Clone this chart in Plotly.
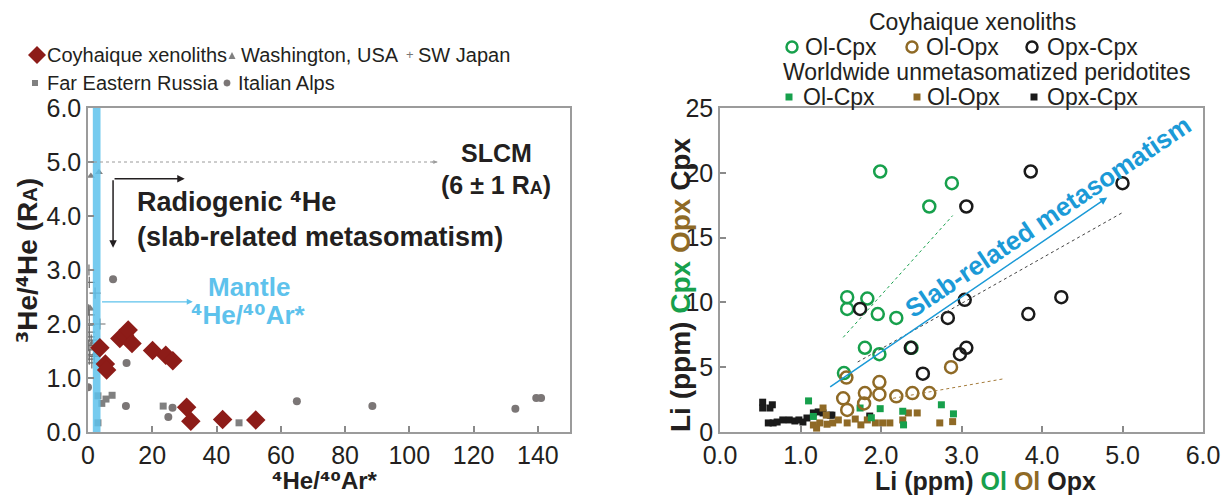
import plotly.graph_objects as go

W, H = 1231, 498
OFF = 8  # page body margin of the browser
FONT = "Arial, 'Liberation Sans', sans-serif"
TXT = "#231f20"

# ---------------- Left panel data: 3He/4He (RA) vs 4He/40Ar* ----------------
coy_x = [3.7, 5.4, 5.8, 9.9, 11.4, 12.5, 13.7, 20.1, 24.2, 26.4, 30.7, 32.0, 41.9, 52.2]
coy_y = [1.56, 1.26, 1.15, 1.73, 1.79, 1.89, 1.64, 1.51, 1.42, 1.32, 0.46, 0.20, 0.23, 0.22]

wash_x = [0.9, 3.4, 0.6, 1.3, 2.2]
wash_y = [4.74, 4.81, 2.30, 1.65, 1.45]

jap_x = [0.4, 2.2, 0.1, 0.4, 0.4, 3.7, 0.4, 0.4, 0.1, 0.6, 0.4, 0.4, 1.2, 0.3, 1.0, 2.0]
jap_y = [2.77, 2.57, 2.26, 2.17, 1.98, 2.00, 1.85, 1.76, 1.60, 1.52, 1.43, 1.35, 1.28, 3.00, 1.70, 1.40]

fer_x = [3.1, 4.3, 5.6, 7.5, 23.4, 47.0, 3.1]
fer_y = [0.67, 0.53, 0.61, 0.68, 0.48, 0.17, 0.17]

ita_x = [0.0, 7.8, 12.0, 11.8, 25.0, 26.3, 65.0, 88.5, 133.0, 139.5, 141.0]
ita_y = [0.83, 2.83, 1.28, 0.48, 0.28, 0.45, 0.57, 0.48, 0.43, 0.63, 0.63]

mantle_band = [1.5, 3.9]          # 4He/40Ar* mantle range (shaded)
slcm_ra = 5.0                     # SLCM reference level
left_xticks = [0, 20, 40, 60, 80, 100, 120, 140]
left_yticks = [0, 1, 2, 3, 4, 5, 6]

# ---------------- Right panel data: Li (ppm) mineral pairs ----------------
olcpx_x = [1.99, 2.88, 2.60, 1.58, 1.83, 1.58, 1.96, 2.19, 1.80, 1.98, 1.54, 2.38]
olcpx_y = [20.1, 19.2, 17.4, 10.4, 10.3, 9.5, 9.1, 8.8, 6.5, 6.0, 4.55, 6.5]

olopx_x = [1.57, 1.53, 1.58, 1.80, 1.79, 1.98, 1.98, 2.19, 2.39, 2.60, 2.87]
olopx_y = [4.2, 2.6, 1.7, 3.0, 2.2, 3.85, 2.9, 2.75, 3.0, 3.0, 5.0]

opxcpx_x = [1.74, 2.37, 2.52, 2.83, 2.98, 3.06, 3.04, 3.06, 3.86, 3.83, 4.24, 5.00]
opxcpx_y = [9.5, 6.5, 4.5, 8.8, 6.0, 6.5, 10.2, 17.4, 20.1, 9.1, 10.4, 19.2]

w_olcpx_x = [1.10, 1.16, 1.74, 1.99, 2.27, 2.28, 2.75, 1.88, 2.90]
w_olcpx_y = [2.4, 1.2, 1.85, 1.8, 1.6, 0.55, 2.1, 1.1, 1.4]

w_olopx_x = [1.16, 1.24, 1.33, 1.40, 1.47, 1.58, 1.68, 1.83, 1.93, 2.02, 2.11, 2.27,
             2.34, 2.45, 2.73, 2.89, 1.28, 1.32, 1.20, 1.75]
w_olopx_y = [0.54, 0.7, 0.6, 0.7, 0.93, 0.7, 1.0, 0.93, 0.7, 0.7, 0.7, 0.93,
             1.47, 1.47, 0.7, 0.8, 1.85, 1.3, 0.3, 0.55]

w_opxcpx_x = [0.53, 0.65, 0.53, 0.60, 0.66, 0.71, 0.78, 0.86, 0.93, 0.98, 1.08, 1.16,
              1.22, 1.28, 1.37, 1.86, 1.03, 0.62, 1.39]
w_opxcpx_y = [2.3, 2.1, 1.85, 0.7, 0.7, 0.77, 0.93, 0.93, 0.85, 0.93, 1.08, 1.47,
              1.55, 1.47, 1.3, 1.23, 0.77, 1.85, 1.3]

# trend lines (start, end) in data units
trend_olcpx = [(1.53, 7.3), (2.89, 16.7)]
trend_opxcpx = [(1.71, 5.4), (5.02, 17.0)]
trend_olopx = [(2.15, 2.6), (3.52, 4.1)]
slab_arrow = [(1.35, 3.4), (4.81, 18.1)]
right_xticks = [0, 1, 2, 3, 4, 5, 6]
right_yticks = [0, 5, 10, 15, 20, 25]

# colours
RED = "#8d1c18"
GRAY = "#808080"
GRAY2 = "#7b7676"
BAND = "rgba(94,194,236,0.85)"
LBLUE = "#5ec2ec"
GREEN = "#17a04c"
BROWN = "#8f6a26"
BLACK = "#1a1a1a"
SBLUE = "#1b9ad7"


def sup(s):
    """superscript digits rendered with one consistent font"""
    return f"<span style='font-family:DejaVu Sans'>{s}</span>"


def fx(x):
    return (x - OFF) / W


def fy(y):
    return 1 - (y - OFF) / H


fig = go.Figure()

# ---- left panel traces ----
fig.add_trace(go.Scatter(x=wash_x, y=wash_y, mode="markers", name="Washington, USA",
                         marker=dict(symbol="triangle-up", size=7, color=GRAY), xaxis="x", yaxis="y"))
fig.add_trace(go.Scatter(x=jap_x, y=jap_y, mode="markers", name="SW Japan",
                         marker=dict(symbol="cross-thin", size=8, line=dict(width=1.2, color="#6e6e6e")),
                         xaxis="x", yaxis="y"))
fig.add_trace(go.Scatter(x=fer_x, y=fer_y, mode="markers", name="Far Eastern Russia",
                         marker=dict(symbol="square", size=7, color=GRAY), xaxis="x", yaxis="y"))
fig.add_trace(go.Scatter(x=ita_x, y=ita_y, mode="markers", name="Italian Alps",
                         marker=dict(symbol="circle", size=8, color=GRAY2), xaxis="x", yaxis="y"))
b0, b1 = mantle_band
fig.add_trace(go.Scatter(x=[b0, b1, b1, b0, b0], y=[0, 0, 6, 6, 0], mode="lines", fill="toself",
                         fillcolor=BAND, line=dict(width=0), hoverinfo="skip", xaxis="x", yaxis="y"))
fig.add_trace(go.Scatter(x=coy_x, y=coy_y, mode="markers", name="Coyhaique xenoliths",
                         marker=dict(symbol="diamond", size=15, color=RED), xaxis="x", yaxis="y"))

# ---- right panel traces ----
sq = dict(symbol="square", size=7)
fig.add_trace(go.Scatter(x=w_opxcpx_x, y=w_opxcpx_y, mode="markers", marker=dict(color=BLACK, **sq),
                         xaxis="x2", yaxis="y2"))
fig.add_trace(go.Scatter(x=w_olopx_x, y=w_olopx_y, mode="markers", marker=dict(color=BROWN, **sq),
                         xaxis="x2", yaxis="y2"))
fig.add_trace(go.Scatter(x=w_olcpx_x, y=w_olcpx_y, mode="markers", marker=dict(color=GREEN, **sq),
                         xaxis="x2", yaxis="y2"))
ring = dict(symbol="circle-open", size=12)
fig.add_trace(go.Scatter(x=olcpx_x, y=olcpx_y, mode="markers",
                         marker=dict(color=GREEN, line=dict(width=2.5, color=GREEN), **ring),
                         xaxis="x2", yaxis="y2"))
fig.add_trace(go.Scatter(x=olopx_x, y=olopx_y, mode="markers",
                         marker=dict(color=BROWN, line=dict(width=2.5, color=BROWN), **ring),
                         xaxis="x2", yaxis="y2"))
fig.add_trace(go.Scatter(x=opxcpx_x, y=opxcpx_y, mode="markers",
                         marker=dict(color=BLACK, line=dict(width=2.5, color=BLACK), **ring),
                         xaxis="x2", yaxis="y2"))

shapes = []
annotations = []


def arrow(xref, yref, x0, y0, x1, y1, color, width, size=1.0):
    annotations.append(dict(xref=xref, yref=yref, axref=xref, ayref=yref, x=x1, y=y1, ax=x0, ay=y0,
                            text="", showarrow=True, arrowhead=2, arrowsize=size, arrowwidth=width,
                            arrowcolor=color))


# SLCM dotted line
shapes.append(dict(type="line", xref="x", yref="y", x0=0, x1=108.7, y0=slcm_ra, y1=slcm_ra,
                   line=dict(color="#9a9a9a", width=1, dash="dot")))
arrow("x", "y", 106.5, slcm_ra, 108.7, slcm_ra, "#9a9a9a", 1, 0.8)
# black L arrows
arrow("x", "y", 7.8, 4.69, 7.8, 3.41, TXT, 1.5)
arrow("x", "y", 7.8, 4.69, 30.1, 4.69, TXT, 1.5)
# blue mantle arrow
arrow("x", "y", b1, 2.41, 32.6, 2.41, LBLUE, 1.2)


def dtext(xref, yref, x, y, s, size, color=TXT, anchor="center", angle=0):
    annotations.append(dict(xref=xref, yref=yref, x=x, y=y, xanchor=anchor, yanchor="middle",
                            showarrow=False, text=s, textangle=angle,
                            font=dict(family=FONT, size=size, color=color)))


dtext("x", "y", 14.6, 4.26, f"<b>Radiogenic {sup('⁴')}He</b>", 27, anchor="left")
dtext("x", "y", 14.6, 3.61, "<b>(slab-related metasomatism)</b>", 27, anchor="left")
dtext("x", "y", 127, 5.17, "<b>SLCM</b>", 25)
dtext("x", "y", 127, 4.57, "<b>(6 ± 1 R<span style='font-size:18px'>A</span>)</b>", 25)
dtext("x", "y", 50, 2.69, "<b>Mantle</b>", 26, color=LBLUE)
dtext("x", "y", 50, 2.17, f"<b>{sup('⁴')}He/{sup('⁴⁰')}Ar*</b>", 26, color=LBLUE)

# right panel trend lines
for (p0, p1), col in [(trend_olcpx, GREEN), (trend_opxcpx, "#444444"), (trend_olopx, "#a57c3c")]:
    shapes.append(dict(type="line", xref="x2", yref="y2", x0=p0[0], y0=p0[1], x1=p1[0], y1=p1[1],
                       line=dict(color=col, width=1, dash="dot")))
arrow("x2", "y2", slab_arrow[0][0], slab_arrow[0][1], slab_arrow[1][0], slab_arrow[1][1], SBLUE, 1.5)
dtext("x2", "y2", 4.07, 16.6, "<b>Slab-related metasomatism</b>", 26, color=SBLUE, angle=-34)


def ptext(xp, yp, s, size, anchor="left", angle=0, color=TXT):
    dtext("paper", "paper", fx(xp), fy(yp), s, size, color=color, anchor=anchor, angle=angle)


# axis titles
ptext(27, 261, f"<b>{sup('³')}He/{sup('⁴')}He (R<span style='font-size:20px'>A</span>)</b>", 28,
      anchor="center", angle=-90)
ptext(325, 481, f"<b>{sup('⁴')}He/{sup('⁴⁰')}Ar*</b>", 24, anchor="center")
ptext(680, 285, f"<b>Li (ppm) <span style='color:{GREEN}'>Cpx</span> "
                f"<span style='color:{BROWN}'>Opx</span> Cpx</b>", 28, anchor="center", angle=-90)
ptext(985, 481, f"<b>Li (ppm) <span style='color:{GREEN}'>Ol</span> "
                f"<span style='color:{BROWN}'>Ol</span> Opx</b>", 25, anchor="center")


# ---- manual legends ----
def ppath(points, color):
    d = "M " + " L ".join(f"{fx(p[0]):.5f},{fy(p[1]):.5f}" for p in points) + " Z"
    shapes.append(dict(type="path", xref="paper", yref="paper", path=d, fillcolor=color, line=dict(width=0)))


def pcircle(cx, cy, r, color, fill=None, lw=2.5):
    shapes.append(dict(type="circle", xref="paper", yref="paper",
                       x0=fx(cx - r), x1=fx(cx + r), y0=fy(cy + r), y1=fy(cy - r),
                       line=dict(color=color, width=lw), fillcolor=fill if fill else "rgba(0,0,0,0)"))


def prect(cx, cy, r, color):
    shapes.append(dict(type="rect", xref="paper", yref="paper",
                       x0=fx(cx - r), x1=fx(cx + r), y0=fy(cy + r), y1=fy(cy - r),
                       line=dict(width=0), fillcolor=color))


# left legend
ppath([(37, 46), (46, 55), (37, 64), (28, 55)], RED)
ptext(45, 55, "Coyhaique xenoliths", 20)
ppath([(232, 52), (235.5, 59), (228.5, 59)], GRAY)
ptext(239, 55, "Washington, USA", 20)
ptext(404, 55, "+", 13, color="#777777")
ptext(416, 55, "SW Japan", 20)
prect(35, 83, 3, GRAY)
ptext(45, 83, "Far Eastern Russia", 20)
pcircle(227, 83, 3.2, GRAY2, fill=GRAY2, lw=0.5)
ptext(236, 83, "Italian Alps", 20)

# right legend
LG = 23
ptext(972, 22, "Coyhaique xenoliths", LG, anchor="center")
pcircle(792, 47, 5.5, GREEN)
ptext(803, 47, "Ol-Cpx", LG)
pcircle(912, 47, 5.5, BROWN)
ptext(924, 47, "Ol-Opx", LG)
pcircle(1032, 47, 5.5, BLACK)
ptext(1045, 47, "Opx-Cpx", LG)
ptext(986, 72, "Worldwide unmetasomatized peridotites", LG, anchor="center")
prect(789, 97, 3.5, GREEN)
ptext(801, 97, "Ol-Cpx", LG)
prect(917, 97, 3.5, BROWN)
ptext(925, 97, "Ol-Opx", LG)
prect(1034, 97, 3.5, BLACK)
ptext(1045, 97, "Opx-Cpx", LG)

ax_common = dict(showgrid=False, zeroline=False, showline=True, linecolor="#9b9b9b", linewidth=1.5,
                 mirror=True, ticks="inside", ticklen=6, tickwidth=1.5, tickcolor="#8a8a8a",
                 automargin=False, tickfont=dict(family=FONT, size=25, color=TXT))
ydom = [fy(432), fy(108)]

fig.update_layout(
    width=W, height=H, margin=dict(l=0, r=0, t=0, b=0, pad=0, autoexpand=False),
    paper_bgcolor="white", plot_bgcolor="white", showlegend=False,
    font=dict(family=FONT, color=TXT),
    xaxis=dict(domain=[fx(88), fx(570)], range=[0, 150], tickvals=left_xticks, anchor="y", **ax_common),
    yaxis=dict(domain=ydom, range=[0, 6], tickvals=left_yticks, tickformat=".1f", anchor="x", **ax_common),
    xaxis2=dict(domain=[fx(720), fx(1203)], range=[0, 6], tickvals=right_xticks, tickformat=".1f",
                anchor="y2", **ax_common),
    yaxis2=dict(domain=ydom, range=[0, 25], tickvals=right_yticks, anchor="x2", **ax_common),
    shapes=shapes, annotations=annotations,
)

fig.write_html("out.html")
